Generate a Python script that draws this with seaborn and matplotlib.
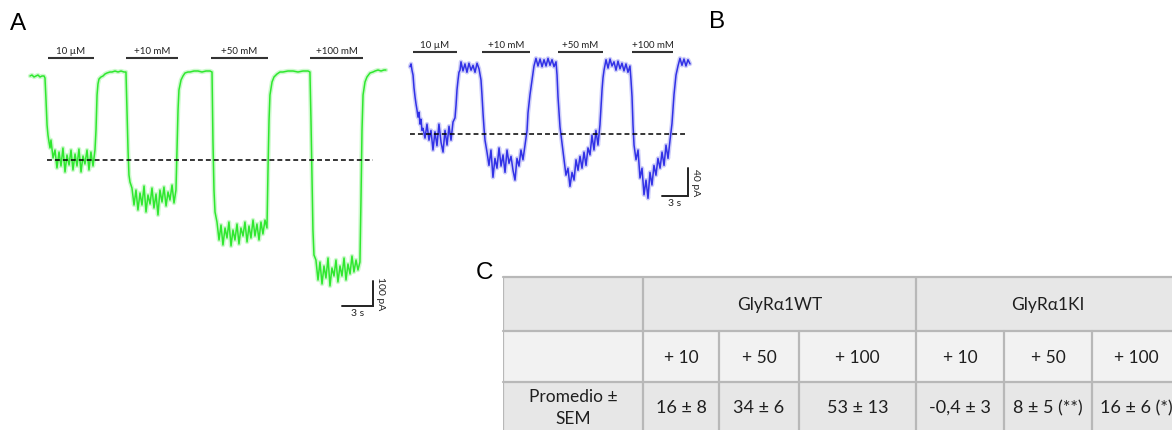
import matplotlib
matplotlib.use("Agg")
import matplotlib.pyplot as plt
from matplotlib.patches import Rectangle
from matplotlib.transforms import offset_copy
import seaborn as sns

# ---------------- data ----------------
# Panel A: GlyRa1 WT current trace (time in s, current in pA)
wt_t = [0.00, 0.19, 0.39, 0.58, 0.77, 0.97, 1.16, 1.36, 1.45,
        1.55, 1.65, 1.74, 1.84, 1.94,
        2.03, 2.23, 2.42, 2.61, 2.81, 3.00, 3.19, 3.39, 3.58, 3.78, 3.97, 4.16,
        4.36, 4.55, 4.74, 4.94, 5.13, 5.32, 5.52, 5.71, 5.90, 6.10, 6.29,
        6.39, 6.49, 6.58, 6.68, 6.87, 7.07, 7.26, 7.45, 7.74,
        7.94, 8.23, 8.52, 8.81, 9.10, 9.29,
        9.39, 9.49, 9.58, 9.68,
        9.87, 10.07, 10.26, 10.45, 10.65, 10.84, 11.04, 11.23, 11.42, 11.62, 11.81, 12.00,
        12.20, 12.39, 12.58, 12.78, 12.97, 13.17, 13.36, 13.55, 13.75, 13.94, 14.13,
        14.23, 14.33, 14.42, 14.62, 14.81, 15.00, 15.29,
        15.49, 15.88, 16.26, 16.65, 17.04, 17.42, 17.62,
        17.71, 17.81, 17.91,
        18.10, 18.30, 18.49, 18.68, 18.88, 19.07, 19.26, 19.46, 19.65, 19.84, 20.04, 20.23, 20.42,
        20.62, 20.81, 21.01, 21.20, 21.39, 21.59, 21.78, 21.97, 22.17, 22.36, 22.55, 22.75, 22.94,
        23.04, 23.14, 23.23, 23.43, 23.62, 23.91, 24.20,
        24.49, 24.97, 25.46, 25.94, 26.43, 26.91, 27.10,
        27.20, 27.30, 27.39, 27.49,
        27.68, 27.88, 28.07, 28.27, 28.46, 28.65, 28.85, 29.04, 29.23, 29.43, 29.62, 29.81,
        30.01, 30.20, 30.40, 30.59, 30.78, 30.98, 31.17, 31.36, 31.56, 31.75, 31.94,
        32.04, 32.14, 32.24, 32.43, 32.62, 32.91, 33.20,
        33.40, 33.69, 33.98, 34.27, 34.46]
wt_i = [-16, -12, -20, -16, -12, -20, -16, -16, -24,
        -112, -212, -252, -280, -304,
        -272, -344, -312, -384, -320, -376, -304, -400, -332, -372, -312, -392,
        -328, -376, -308, -400, -336, -368, -312, -392, -320, -376, -312,
        -232, -92, -48, -28, -20, -16, -8, -4, 0,
        0, 4, 0, 4, 0, 0,
        -152, -312, -412, -440,
        -464, -532, -472, -552, -484, -532, -456, -560, -492, -528, -464, -544,
        -488, -572, -472, -520, -460, -536, -480, -512, -452, -524, -472,
        -312, -152, -72, -32, -16, -4, 0,
        0, 4, 4, 0, 4, 4, 0,
        -272, -472, -560,
        -600, -672, -612, -692, -624, -664, -600, -696, -632, -672, -608, -688, -624,
        -656, -600, -680, -616, -664, -592, -656, -608, -672, -600, -648, -592, -624,
        -392, -192, -92, -40, -20, -8, 0,
        0, 4, 4, 0, 4, 4, 0,
        -192, -432, -632, -732,
        -752, -832, -760, -848, -776, -824, -744, -856, -784, -816, -752, -840,
        -776, -816, -744, -832, -768, -808, -736, -800, -752, -792, -760,
        -512, -232, -92, -40, -20, -4, 0,
        4, 8, 4, 8, 8]

# Panel B: GlyRa1 KI current trace (time in s, current in pA)
ki_t = [0.00, 0.12, 0.23, 0.35, 0.46, 0.58, 0.69, 0.81, 0.92, 1.04, 1.15, 1.27, 1.38,
        1.50, 1.73, 1.96, 2.19, 2.42, 2.65, 2.88, 3.11, 3.34, 3.58, 3.81, 4.04, 4.27,
        4.50, 4.73, 4.96, 5.19,
        5.31, 5.42, 5.54, 5.65, 5.77,
        5.88, 6.11, 6.34, 6.57, 6.80, 7.04, 7.27, 7.50, 7.73, 7.96,
        8.19, 8.30, 8.42, 8.54, 8.65,
        8.88, 9.11, 9.34, 9.57, 9.80, 10.03, 10.27, 10.50, 10.73, 10.96, 11.19, 11.42,
        11.65, 11.88, 12.11, 12.34, 12.57, 12.80, 13.03, 13.26,
        13.50, 13.61, 13.84, 14.07, 14.30,
        14.53, 14.76, 15.00, 15.23, 15.46, 15.69, 15.92, 16.15, 16.38, 16.61, 16.84,
        16.96, 17.07, 17.19, 17.30, 17.53,
        17.76, 17.99, 18.22, 18.45, 18.69, 18.92, 19.15, 19.38, 19.61, 19.84, 20.07,
        20.30, 20.53, 20.76, 20.99, 21.22, 21.45, 21.68, 21.91,
        22.03, 22.15, 22.26, 22.38,
        22.61, 22.84, 23.07, 23.30, 23.53, 23.76, 23.99, 24.22, 24.45, 24.68, 24.91, 25.14, 25.37,
        25.49, 25.61, 25.72, 25.84,
        26.07, 26.30, 26.53, 26.76, 26.99, 27.22, 27.45, 27.68, 27.91, 28.14, 28.37, 28.60,
        28.84, 29.07, 29.30, 29.53, 29.76, 29.99,
        30.22, 30.45, 30.68, 30.91,
        31.14, 31.37, 31.60, 31.83, 32.06, 32.30]
ki_i = [-1, 3, -6, -13, -31, -44, -54, -63, -73, -66, -83, -76, -92,
        -89, -103, -83, -106, -92, -120, -94, -114, -83, -109, -123, -92, -113,
        -86, -106, -80, -74,
        -56, -34, -20, -9, -6,
        6, -7, 3, -9, 4, -6, 1, -9, 4, -4,
        -20, -41, -67, -89, -106,
        -123, -142, -120, -159, -132, -146, -117, -143, -127, -152, -120, -139,
        -129, -149, -163, -132, -143, -120, -134, -113,
        -92, -67, -41, -20, 0,
        11, 0, 10, -1, 9, 0, 11, 1, 9, -1, 6,
        -13, -44, -67, -87, -110,
        -134, -156, -146, -172, -152, -163, -134, -149, -129, -146, -123,
        -142, -117, -127, -99, -120, -92, -113, -84,
        -60, -34, -17, -6,
        9, -3, 10, 0, 6, -6, 7, -4, 4, -7, 3, -9, 0,
        -20, -44, -84, -113,
        -134, -120, -160, -146, -184, -163, -189, -152, -170, -142, -156, -132,
        -146, -123, -142, -113, -132, -106,
        -82, -41, -13, 0,
        11, 1, 10, 0, 9, 3]

pulse_labels = ["10 µM", "+10 mM", "+50 mM", "+100 mM"]
wt_pulses = [(1.74, 6.20), (9.29, 14.33), (17.52, 23.04), (27.10, 32.24)]
ki_pulses = [(0.35, 5.42), (8.30, 13.84), (17.07, 22.26), (25.61, 30.33)]
wt_ref = -352    # 10 uM glycine response level
ki_ref = -97
scale_s = 3
wt_scale_pA = 100
ki_scale_pA = 40

# Panel C: potentiation table
groups = ["GlyRα1WT", "GlyRα1KI"]
ethanol = ["+ 10", "+ 50", "+ 100"]
pot_wt = ["16 ± 8", "34 ± 6", "53 ± 13"]
pot_ki = ["-0,4 ± 3", "8 ± 5 (**)", "16 ± 6 (*)"]
row_label = "Promedio ±\nSEM"

# ---------------- figure ----------------
sns.set_theme(style="white")
plt.rcParams["font.family"] = ["Lato", "DejaVu Sans"]

W, H = 1172, 430
fig = plt.figure(figsize=(W / 100, H / 100), dpi=100)


def px_box(l, t, r, b):
    return [l / W, 1 - b / H, (r - l) / W, (b - t) / H]


def trace_axes(box, x0, y0, sx, sy):
    # sx: px per second, sy: px per pA; (x0, y0) pixel of t=0, I=0
    l, t, r, b = box
    ax = fig.add_axes(px_box(*box))
    ax.set_xlim((l - x0) / sx, (r - x0) / sx)
    ax.set_ylim((y0 - b) / sy, (y0 - t) / sy)
    ax.axis("off")
    return ax


def draw_trace(ax, t, i, color, pulses, bar_y, ref, ref_span, corner, scale_pA):
    # soft halo + core, like a noisy recording
    sns.lineplot(x=t, y=i, ax=ax, color=color, linewidth=3.2, alpha=0.22,
                 estimator=None, sort=False)
    sns.lineplot(x=t, y=i, ax=ax, color=color, linewidth=1.1, alpha=0.9,
                 estimator=None, sort=False)
    up = offset_copy(ax.transData, fig=fig, y=2, units="dots")
    for (a, b), lab in zip(pulses, pulse_labels):
        ax.plot([a, b], [bar_y, bar_y], color="#333333", lw=1.5, solid_capstyle="butt")
        ax.text((a + b) / 2, bar_y, lab, transform=up, ha="center", va="bottom",
                fontsize=7, color="#222222")
    ax.plot(ref_span, [ref, ref], color="black", lw=1.1, ls=(0, (3.2, 2.0)))
    ct, ci = corner
    ax.plot([ct - scale_s, ct, ct], [ci, ci, ci + scale_pA], color="#222222", lw=1.4,
            solid_joinstyle="miter")
    down = offset_copy(ax.transData, fig=fig, y=-3, units="dots")
    ax.text(ct - scale_s / 2, ci, f"{scale_s} s", transform=down, ha="center", va="top",
            fontsize=7.5, color="#222222")
    right = offset_copy(ax.transData, fig=fig, x=3, units="dots")
    ax.text(ct, ci + scale_pA / 2, f"{scale_pA} pA", transform=right, rotation=-90,
            ha="left", va="center", fontsize=7.5, color="#222222")


axA = trace_axes((15, 40, 400, 320), 30, 72, 10.33, 0.25)
draw_trace(axA, wt_t, wt_i, "#1ee61e", wt_pulses, 56, wt_ref, [1.65, 33.2],
           (33.20, -936), wt_scale_pA)

axB = trace_axes((400, 30, 710, 225), 410, 66, 8.67, 0.70)
draw_trace(axB, ki_t, ki_i, "#2020e4", ki_pulses, 20, ki_ref, [0.0, 31.7],
           (32.07, -186), ki_scale_pA)

# ---------------- table ----------------
axC = fig.add_axes(px_box(503, 277, 1180, 434))
axC.set_xlim(503, 1180)
axC.set_ylim(434, 277)
axC.axis("off")

cols = [503, 643, 719, 799, 916, 1004, 1092, 1180]
rows = [277, 331, 382, 434]
fills = ["#e7e7e7", "#f2f2f2", "#e7e7e7"]
line_c = "#b8b8b8"
txt_c = "#1f1f1f"

for r in range(3):
    axC.add_patch(Rectangle((cols[0], rows[r]), cols[-1] - cols[0], rows[r + 1] - rows[r],
                            facecolor=fills[r], edgecolor="none"))
for y in rows:
    axC.plot([cols[0], cols[-1]], [y, y], color=line_c, lw=1.6, clip_on=False)
for x in [cols[0], cols[1], cols[4]]:
    axC.plot([x, x], [rows[0], rows[-1]], color=line_c, lw=1.6)
for x in [cols[2], cols[3], cols[5], cols[6]]:
    axC.plot([x, x], [rows[1], rows[-1]], color=line_c, lw=1.6)

fs = 12.5
axC.text((cols[1] + cols[4]) / 2, 305, groups[0], ha="center", va="center", fontsize=fs, color=txt_c)
axC.text((cols[4] + cols[7]) / 2, 305, groups[1], ha="center", va="center", fontsize=fs, color=txt_c)
values = pot_wt + pot_ki
for k in range(6):
    xc = (cols[k + 1] + cols[k + 2]) / 2
    axC.text(xc, 358, ethanol[k % 3], ha="center", va="center", fontsize=fs, color=txt_c)
    axC.text(xc, 408, values[k], ha="center", va="center", fontsize=fs + 0.5, color=txt_c)
axC.text((cols[0] + cols[1]) / 2, 408, row_label, ha="center", va="center", fontsize=fs,
         color=txt_c, linespacing=1.45)

# panel letters
for lab, x, y in [("A", 10, 24), ("B", 709, 22), ("C", 476, 273)]:
    fig.text(x / W, 1 - y / H, lab, fontsize=17.5, family=["Liberation Sans"],
             ha="left", va="center", color="black")

fig.savefig("out.png", dpi=100, facecolor="white")
